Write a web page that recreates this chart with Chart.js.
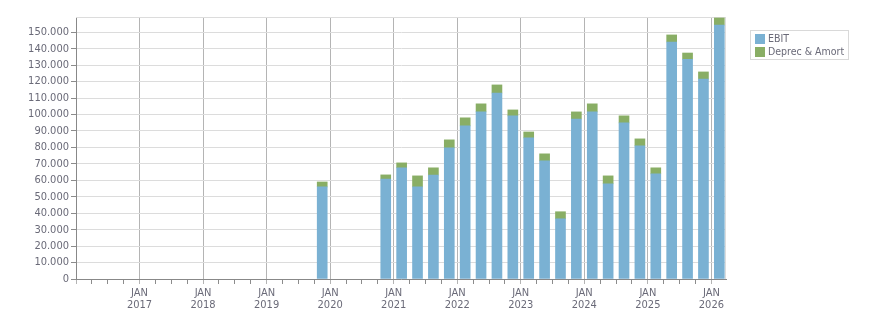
<!DOCTYPE html>
<html>
<head>
<meta charset="utf-8">
<title>EBIT / Deprec & Amort</title>
<style>
  html, body { margin: 0; padding: 0; background: #fff; }
  #wrap { width: 876px; height: 313px; }
</style>
<script src="https://cdn.jsdelivr.net/npm/chart.js"></script>
</head>
<body>
<div id="wrap"><canvas id="chart" width="876" height="313"></canvas></div>
<script>
// quarterly values
var quarters = ['2019 Q4', '2020 Q4',
    '2021 Q1', '2021 Q2', '2021 Q3', '2021 Q4',
    '2022 Q1', '2022 Q2', '2022 Q3', '2022 Q4',
    '2023 Q1', '2023 Q2', '2023 Q3', '2023 Q4',
    '2024 Q1', '2024 Q2', '2024 Q3', '2024 Q4',
    '2025 Q1', '2025 Q2', '2025 Q3', '2025 Q4',
    '2026 Q1'];
var ebit = [56000, 60700,
    67600, 56000, 63200, 79700,
    93100, 101600, 113100, 99200,
    85800, 71800, 36600, 97300,
    101600, 57900, 94900, 80900,
    63900, 144100, 133600, 121600,
    154400];
var deprecAmort = [3000, 2600,
    3000, 6700, 4400, 4900,
    4900, 4900, 4900, 3600,
    3600, 4300, 4300, 4300,
    4900, 4800, 4300, 4300,
    3700, 4300, 3800, 4300,
    4300];
var seriesNames = ['EBIT', 'Deprec & Amort'];
var seriesColors = ['#7ab1d3', '#89ae65'];
var xStart = 2016, xEnd = 2026.23;
var yMax = 159300, yStep = 10000, yLastTick = 150000;

var fontFamily = '"DejaVu Sans Condensed", "Liberation Sans", sans-serif';
var textColor = '#6a6a78';

// quarter -> middle of that quarter, in decimal years
function quarterMid(q) {
    var p = q.split(' Q');
    return +p[0] + (+p[1] - 0.5) / 4;
}
function fmt(v) {
    return String(Math.round(v)).replace(/\B(?=(\d{3})+(?!\d))/g, '.');
}
function points(values) {
    return quarters.map(function(q, i) { return { x: quarterMid(q), y: values[i] }; });
}
function isYear(v) { return Math.abs(v - Math.round(v)) < 1e-6; }

// light border on top/right and the boxed legend
var frameAndLegend = {
    id: 'frameAndLegend',
    beforeDatasetsDraw: function(chart) {
        var ctx = chart.ctx, a = chart.chartArea;
        ctx.save();
        ctx.strokeStyle = '#dcdcdc';
        ctx.lineWidth = 1;
        ctx.beginPath();
        ctx.moveTo(a.left, Math.round(a.top) + 0.5);
        ctx.lineTo(a.right, Math.round(a.top) + 0.5);
        ctx.moveTo(Math.round(a.right) - 0.5, a.top);
        ctx.lineTo(Math.round(a.right) - 0.5, a.bottom);
        ctx.stroke();
        ctx.restore();
    },
    afterDraw: function(chart) {
        var ctx = chart.ctx, a = chart.chartArea;
        ctx.save();
        ctx.font = '10.5px ' + fontFamily;
        var w = 0;
        seriesNames.forEach(function(n) { w = Math.max(w, ctx.measureText(n).width); });
        var x = Math.round(a.right) + 24, y = 30;
        var bw = Math.round(5 + 10 + 3 + w + 4), bh = 29;
        ctx.strokeStyle = '#d9d9d9';
        ctx.lineWidth = 1;
        ctx.strokeRect(x + 0.5, y + 0.5, bw, bh);
        ctx.textBaseline = 'middle';
        ctx.textAlign = 'left';
        seriesNames.forEach(function(n, i) {
            var sy = y + 4 + i * 13;
            ctx.fillStyle = seriesColors[i];
            ctx.fillRect(x + 5, sy, 10, 10);
            ctx.fillStyle = textColor;
            ctx.fillText(n, x + 18, sy + 5.5);
        });
        ctx.restore();
    }
};

new Chart(document.getElementById('chart'), {
    type: 'bar',
    data: {
        datasets: [{
            label: seriesNames[0],
            data: points(ebit),
            backgroundColor: seriesColors[0],
            barThickness: 10
        }, {
            label: seriesNames[1],
            data: points(deprecAmort),
            backgroundColor: seriesColors[1],
            barThickness: 10
        }]
    },
    options: {
        responsive: false,
        devicePixelRatio: 1,
        animation: false,
        layout: { padding: { top: 17, right: 150, left: 0, bottom: 0 } },
        plugins: {
            legend: { display: false },
            tooltip: { enabled: false }
        },
        scales: {
            x: {
                type: 'linear',
                stacked: true,
                offset: false,
                min: xStart,
                max: xEnd,
                afterFit: function(s) { s.height = 34; },
                border: { color: '#888888', width: 1 },
                grid: {
                    offset: false,
                    drawOnChartArea: true,
                    tickLength: 5,
                    color: function(c) { return (c.tick && isYear(c.tick.value)) ? '#b4b4b4' : 'rgba(0,0,0,0)'; },
                    tickColor: function(c) { return (c.tick && isYear(c.tick.value)) ? '#b4b4b4' : '#8c8c8c'; }
                },
                ticks: {
                    stepSize: 0.25,
                    autoSkip: false,
                    includeBounds: false,
                    maxRotation: 0,
                    padding: 3,
                    color: textColor,
                    font: { family: fontFamily, size: 11, lineHeight: 1.1 },
                    callback: function(v) {
                        if (isYear(v) && Math.round(v) > xStart) return ['JAN', String(Math.round(v))];
                        return '';
                    }
                }
            },
            y: {
                stacked: true,
                min: 0,
                max: yMax,
                afterFit: function(s) { s.width = 76; },
                afterBuildTicks: function(s) {
                    var t = [];
                    for (var v = 0; v <= yLastTick; v += yStep) t.push({ value: v });
                    s.ticks = t;
                },
                border: { color: '#888888', width: 1 },
                grid: {
                    color: '#dcdcdc',
                    tickColor: '#8c8c8c',
                    tickLength: 5
                },
                ticks: {
                    autoSkip: false,
                    padding: 2,
                    color: textColor,
                    font: { family: fontFamily, size: 11 },
                    callback: function(v) { return fmt(v); }
                }
            }
        }
    },
    plugins: [frameAndLegend]
});
</script>
</body>
</html>
